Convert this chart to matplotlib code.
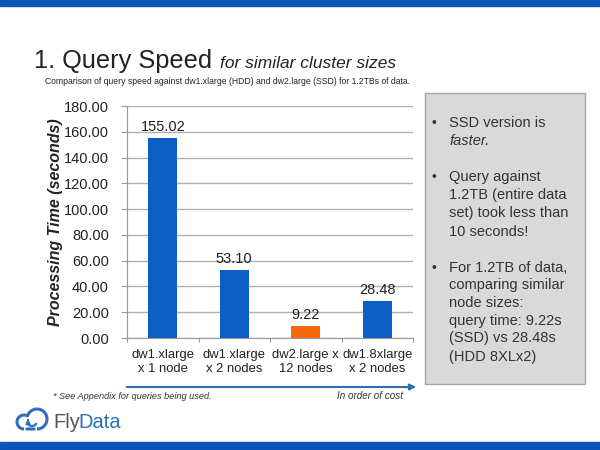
import matplotlib.pyplot as plt
from matplotlib.patches import Rectangle, FancyArrowPatch, Arc

# データ
categories = ['dw1.xlarge\nx 1 node', 'dw1.xlarge\nx 2 nodes', 'dw2.large x\n12 nodes', 'dw1.8xlarge\nx 2 nodes']
times = [155.02, 53.10, 9.22, 28.48]
colors = ['#0b5fc6', '#0b5fc6', '#f5680a', '#0b5fc6']
yticks = [0, 20, 40, 60, 80, 100, 120, 140, 160, 180]

plt.rcParams['font.family'] = ['Liberation Sans', 'DejaVu Sans']

fig = plt.figure(figsize=(6, 4.5), dpi=100)

def px(x, y):
    # ピクセル座標 -> figure座標
    return x / 600, 1 - y / 450

# 上下の青い帯
fig.patches.append(Rectangle(px(0, 6), 1, 6 / 450, transform=fig.transFigure, color='#0b55b9'))
fig.patches.append(Rectangle(px(0, 450), 1, 8 / 450, transform=fig.transFigure, color='#0b55b9'))

# タイトル
fig.text(*px(34, 68), '1. Query Speed', fontsize=18.3, color='#222222', va='baseline')
fig.text(*px(220, 68), 'for similar cluster sizes', fontsize=12.5, style='italic', color='#222222', va='baseline')
fig.text(*px(45, 84), 'Comparison of query speed against dw1.xlarge (HDD) and dw2.large (SSD) for 1.2TBs of data.',
         fontsize=6.2, color='#222222', va='baseline')

# 棒グラフ
ax = fig.add_axes([127 / 600, 1 - 338 / 450, 286 / 600, 232 / 450])
x = range(len(times))
ax.bar(x, times, width=0.4, color=colors, zorder=3)
for i, v in enumerate(times):
    ax.text(i, v + 3, f'{v:.2f}', ha='center', va='bottom', fontsize=10.5, color='#222222')
ax.set_xlim(-0.5, len(times) - 0.5)
ax.set_ylim(0, 180)
ax.set_yticks(yticks)
ax.set_yticklabels([f'{t:.2f}' for t in yticks], fontsize=10.5, color='#222222')
ax.set_xticks([i + 0.5 for i in range(-1, len(times))])
ax.set_xticklabels([])
ax.tick_params(axis='x', length=3, color='#999999')
ax.tick_params(axis='y', length=4, color='#999999', pad=9)
for i, c in enumerate(categories):
    ax.text(i, -8.5, c, ha='center', va='top', fontsize=9.4, color='#222222', linespacing=1.25)
ax.yaxis.grid(True, color='#b0b0b0', linewidth=1)
for s in ['top', 'right']:
    ax.spines[s].set_visible(False)
ax.spines['left'].set_color('#999999')
ax.spines['bottom'].set_color('#999999')
ax.set_ylabel('Processing Time (seconds)', fontsize=11.5, fontweight='bold', style='italic',
              color='#222222')
ax.yaxis.set_label_coords((63 - 127) / 286, 0.5)

# 矢印
fig.patches.append(FancyArrowPatch(px(124, 387), px(419, 387), transform=fig.transFigure,
                                   arrowstyle='-|>', mutation_scale=9, color='#2d6fb8', linewidth=1.5))
fig.text(*px(53, 399), '* See Appendix for queries being used.', fontsize=6.6, style='italic',
         color='#333333', va='baseline')
fig.text(*px(403, 399), 'In order of cost', fontsize=7.1, style='italic', color='#333333',
         va='baseline', ha='right')

# グレーの枠
fig.patches.append(Rectangle(px(425, 384), 160 / 600, 291 / 450, transform=fig.transFigure,
                             facecolor='#d9d9d9', edgecolor='#a6a6a6', linewidth=1))
lines = [
    (127, '•', 'SSD version is', 'normal'),
    (145, '', 'faster.', 'italic'),
    (181, '•', 'Query against', 'normal'),
    (199, '', '1.2TB (entire data', 'normal'),
    (217, '', 'set) took less than', 'normal'),
    (236, '', '10 seconds!', 'normal'),
    (272, '•', 'For 1.2TB of data,', 'normal'),
    (289, '', 'comparing similar', 'normal'),
    (307, '', 'node sizes:', 'normal'),
    (325, '', 'query time: 9.22s', 'normal'),
    (342, '', '(SSD) vs 28.48s', 'normal'),
    (361, '', '(HDD 8XLx2)', 'normal'),
]
for yy, b, t, st in lines:
    if b:
        fig.text(*px(431, yy), b, fontsize=10, color='#333333', va='baseline')
    fig.text(*px(449, yy), t, fontsize=10.5, style=st, color='#333333', va='baseline')

# ロゴ (雲のアイコン)
logo_blue = '#2d6fb8'
fig.patches.append(Arc(px(37, 419), 20 / 600, 20 / 450, theta1=-90, theta2=160, transform=fig.transFigure,
                       edgecolor=logo_blue, linewidth=2.2))
fig.patches.append(Arc(px(24, 422), 14 / 600, 14 / 450, theta1=60, theta2=270, transform=fig.transFigure,
                       edgecolor=logo_blue, linewidth=2.2))
fig.patches.append(FancyArrowPatch(px(24, 429), px(37, 429), transform=fig.transFigure,
                                   arrowstyle='-', color=logo_blue, linewidth=2.2))
fig.patches.append(Arc(px(32, 421), 10 / 600, 10 / 450, theta1=200, theta2=330, transform=fig.transFigure,
                       edgecolor=logo_blue, linewidth=1.6))
fig.patches.append(FancyArrowPatch(px(28, 423), px(28, 416), transform=fig.transFigure,
                                   arrowstyle='-|>', mutation_scale=6, color=logo_blue, linewidth=1.4))
fig.text(*px(53, 428), 'Fly', fontsize=14.5, color='#555555', va='baseline')
fig.text(*px(78, 428), 'Data', fontsize=14.5, color=logo_blue, va='baseline')

fig.savefig('out.png', dpi=100)
